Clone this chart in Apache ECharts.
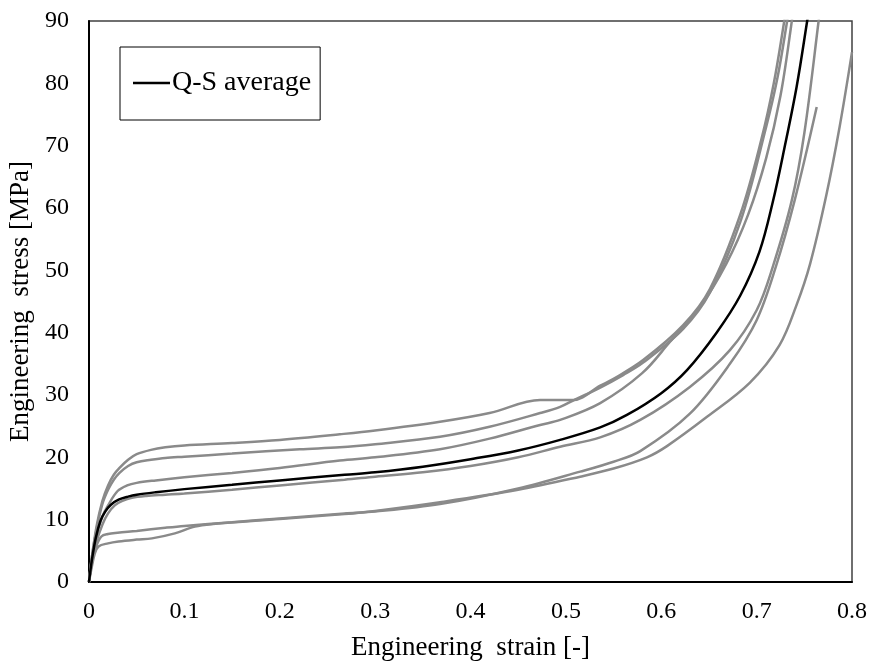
<!DOCTYPE html>
<html>
<head>
<meta charset="utf-8">
<script src="https://cdn.jsdelivr.net/npm/echarts@6/dist/echarts.min.js"></script>
<style>
  html, body { margin: 0; padding: 0; background: #fff; }
  #chart { width: 870px; height: 662px; }
</style>
</head>
<body>
<div id="chart"></div>
<script>
// axis ticks
const xTicks = [0, 0.1, 0.2, 0.3, 0.4, 0.5, 0.6, 0.7, 0.8];
const yTicks = [0, 10, 20, 30, 40, 50, 60, 70, 80, 90];

// Q-S average (black)
const avgStrain = [0, 0.003, 0.007, 0.012, 0.017, 0.023, 0.031, 0.041, 0.05, 0.07, 0.1, 0.15, 0.2, 0.268, 0.3, 0.35, 0.4, 0.45, 0.494, 0.536, 0.564, 0.6, 0.627, 0.658, 0.683, 0.703, 0.717, 0.729, 0.742, 0.753, 0.757];
const avgStress = [0, 3.5, 7, 9.8, 11.3, 12.4, 13.2, 13.7, 14.0, 14.4, 14.9, 15.6, 16.3, 17.2, 17.6, 18.5, 19.7, 21.1, 22.8, 24.8, 26.8, 30.3, 34.0, 40.0, 46.0, 53.0, 61.0, 69.5, 79.5, 90, 94];

// individual tests (grey)
const aStrain = [0, 0.003, 0.008, 0.014, 0.02, 0.026, 0.032, 0.041, 0.05, 0.065, 0.08, 0.1, 0.15, 0.2, 0.263, 0.3, 0.368, 0.42, 0.473, 0.49, 0.508, 0.536, 0.55, 0.581, 0.623, 0.651, 0.683, 0.705, 0.718, 0.729, 0.733];
const aStress = [0, 4, 9, 13, 15.5, 17.2, 18.3, 19.6, 20.5, 21.2, 21.6, 21.9, 22.3, 22.8, 23.7, 24.3, 25.7, 27.1, 29.2, 29.2, 29.2, 31.5, 32.6, 35.6, 41.2, 47.0, 59.0, 71, 80, 90, 94];

const bStrain = [0, 0.003, 0.008, 0.014, 0.02, 0.026, 0.032, 0.041, 0.05, 0.065, 0.08, 0.1, 0.15, 0.221, 0.263, 0.3, 0.368, 0.42, 0.473, 0.494, 0.51, 0.536, 0.56, 0.581, 0.623, 0.651, 0.683, 0.71, 0.722, 0.732, 0.736];
const bStress = [0, 4, 8.5, 12.5, 14.8, 16.4, 17.5, 18.6, 19.2, 19.6, 19.9, 20.1, 20.6, 21.3, 21.6, 22.1, 23.3, 24.9, 27.1, 28.1, 29.3, 31.2, 33.2, 35.2, 40.6, 46.4, 57.8, 73, 81, 90, 94];

const cStrain = [0, 0.003, 0.008, 0.014, 0.02, 0.03, 0.04, 0.05, 0.07, 0.1, 0.15, 0.2, 0.263, 0.3, 0.368, 0.42, 0.473, 0.494, 0.536, 0.58, 0.609, 0.64, 0.668, 0.691, 0.71, 0.725, 0.736, 0.74];
const cStress = [0, 3.5, 7.5, 10.5, 12.3, 14.6, 15.5, 15.9, 16.3, 16.8, 17.5, 18.3, 19.5, 20.0, 21.3, 23.0, 25.2, 26.0, 28.7, 33.5, 38.5, 44.0, 51.0, 58.9, 68, 78, 89, 94];

const dStrain = [0, 0.003, 0.008, 0.014, 0.02, 0.027, 0.035, 0.045, 0.06, 0.08, 0.1, 0.15, 0.2, 0.268, 0.3, 0.35, 0.4, 0.45, 0.494, 0.536, 0.578, 0.63, 0.672, 0.7, 0.717, 0.737, 0.75, 0.765, 0.768];
const dStress = [0, 3, 6.5, 9.2, 11, 12.3, 13.0, 13.5, 13.8, 14.0, 14.2, 14.8, 15.5, 16.4, 16.9, 17.6, 18.6, 20.0, 21.7, 23.2, 26.0, 31.3, 37.2, 43.6, 50.6, 61.3, 72, 90, 94];

const eStrain = [0, 0.003, 0.007, 0.013, 0.02, 0.03, 0.05, 0.08, 0.1, 0.15, 0.2, 0.268, 0.3, 0.368, 0.45, 0.515, 0.55, 0.578, 0.63, 0.672, 0.7, 0.72, 0.74, 0.763];
const eStress = [0, 3, 5.5, 7.3, 7.7, 7.9, 8.2, 8.7, 9.0, 9.6, 10.2, 11.0, 11.3, 12.5, 15.0, 17.7, 19.3, 21.0, 27.0, 35.0, 42.0, 50.5, 61.3, 76.2];

const fStrain = [0, 0.003, 0.006, 0.01, 0.02, 0.031, 0.05, 0.066, 0.09, 0.111, 0.13, 0.2, 0.268, 0.3, 0.368, 0.45, 0.515, 0.55, 0.585, 0.606, 0.648, 0.693, 0.724, 0.742, 0.756, 0.773, 0.787, 0.8];
const fStress = [0, 2.5, 4.5, 5.7, 6.2, 6.5, 6.8, 7.0, 7.8, 8.9, 9.3, 10.1, 10.9, 11.4, 12.8, 14.8, 16.9, 18.2, 20.0, 21.8, 26.5, 32.0, 38.0, 44.5, 51.0, 62.0, 73.0, 85];

const FONT = 'Liberation Serif';
const GREY = '#8a8a8a';

function zip(xs, ys) {
  return xs.map((x, i) => [x, ys[i]]);
}

function greyLine(name, xs, ys) {
  return {
    name: name,
    type: 'line',
    data: zip(xs, ys),
    symbol: 'none',
    smooth: 0.35,
    lineStyle: { color: GREY, width: 2.5 },
    itemStyle: { color: GREY },
    z: 2,
    silent: true
  };
}

const chart = echarts.init(document.getElementById('chart'));

chart.setOption({
  animation: false,
  backgroundColor: '#fff',
  grid: {
    left: 89, right: 18, top: 21, bottom: 80,
    outerBoundsMode: 'none',
    containLabel: false,
    show: true,
    borderColor: '#404040',
    borderWidth: 1.5
  },
  legend: {
    data: ['Q-S average'],
    left: 120,
    top: 47,
    orient: 'vertical',
    icon: 'rect',
    itemWidth: 37,
    itemHeight: 2.5,
    padding: [22, 9, 23, 13],
    borderColor: '#000',
    borderWidth: 1,
    textStyle: { fontFamily: FONT, fontSize: 28, color: '#000', lineHeight: 26, padding: [0, 0, 0, -3] }
  },
  xAxis: {
    type: 'value',
    min: 0, max: 0.8, interval: 0.1,
    name: 'Engineering  strain [-]',
    nameLocation: 'middle',
    nameGap: 52,
    nameTextStyle: { fontFamily: FONT, fontSize: 27, color: '#000' },
    axisLine: { lineStyle: { color: '#000', width: 2 } },
    axisTick: { show: false },
    splitLine: { show: false },
    axisLabel: {
      fontFamily: FONT, fontSize: 24, color: '#000', margin: 18,
      formatter: v => xTicks.includes(Math.round(v * 10) / 10) ? String(Math.round(v * 10) / 10) : ''
    }
  },
  yAxis: {
    type: 'value',
    min: 0, max: 90, interval: 10,
    name: 'Engineering  stress [MPa]',
    nameLocation: 'middle',
    nameGap: 52,
    nameTextStyle: { fontFamily: FONT, fontSize: 27, color: '#000' },
    axisLine: { lineStyle: { color: '#000', width: 2 } },
    axisTick: { show: false },
    splitLine: { show: false },
    axisLabel: {
      fontFamily: FONT, fontSize: 24, color: '#000', margin: 20,
      formatter: v => yTicks.includes(v) ? String(v) : ''
    }
  },
  series: [
    greyLine('A', aStrain, aStress),
    greyLine('B', bStrain, bStress),
    greyLine('C', cStrain, cStress),
    greyLine('D', dStrain, dStress),
    greyLine('E', eStrain, eStress),
    greyLine('F', fStrain, fStress),
    {
      name: 'Q-S average',
      type: 'line',
      data: zip(avgStrain, avgStress),
      symbol: 'none',
      smooth: 0.35,
      lineStyle: { color: '#000', width: 2.5 },
      itemStyle: { color: '#000' },
      z: 3,
      silent: true
    }
  ]
});
</script>
</body>
</html>
